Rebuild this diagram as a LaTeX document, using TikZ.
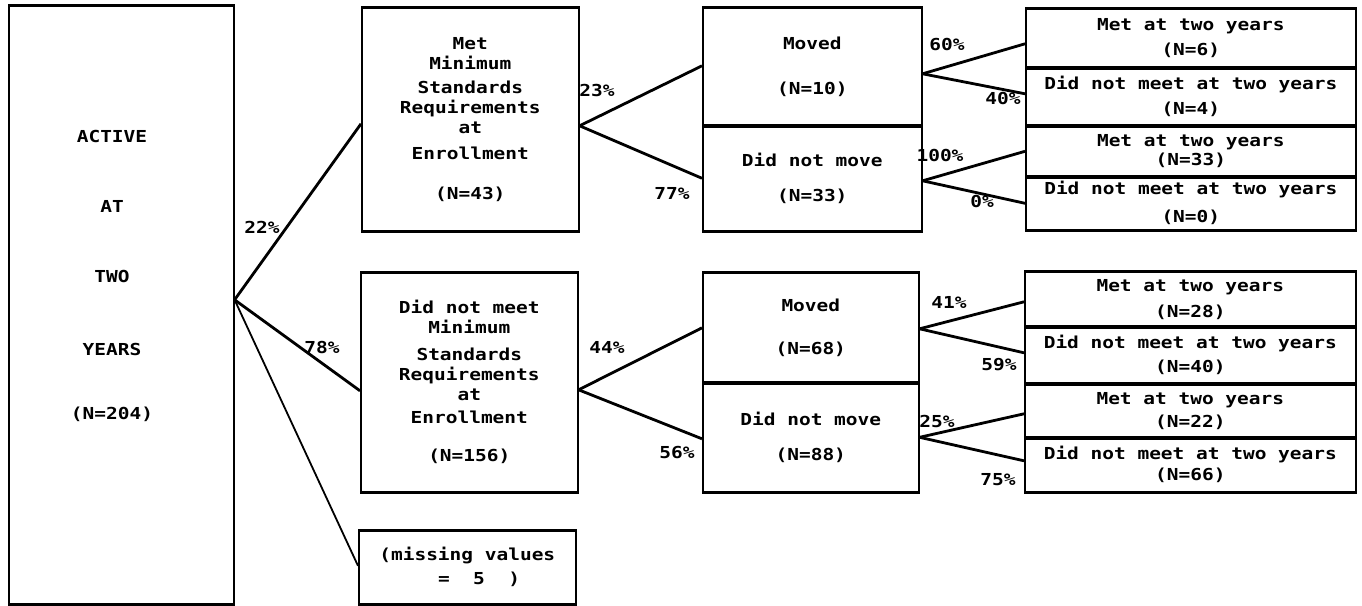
\documentclass[tikz,border=0pt]{standalone}
\usepackage{fontspec}
\newfontfamily\dotfont[FakeStretch=1.18]{DejaVu Sans Mono}
\begin{document}
\begin{tikzpicture}[x=1pt,y=-1pt,
  txt/.style={font=\dotfont\bfseries\fontsize{16.5}{20}\selectfont, align=center, inner sep=0pt},
  box/.style={txt, draw, line width=1.6pt, anchor=north west},
  conn/.style={line width=2.8pt},
  hedge/.style={line width=3pt}]
\useasboundingbox (0,0) rectangle (1362,605);

% root of the tree
\node[box, minimum width=225pt, minimum height=598pt] (root) at (8,5) {};
\node[txt] (roottxt) at (112,276) {ACTIVE\\[50pt]AT\\[50pt]TWO\\[53pt]YEARS\\[44pt](N=204)};

% enrollment level
\node[box, minimum width=217pt, minimum height=223pt] (met) at (361,7)
  {Met\\Minimum\\[4pt]Standards\\Requirements\\at\\[6pt]Enrollment\\[20pt](N=43)};
\node[box, minimum width=217pt, minimum height=219pt] (notmet) at (360,272)
  {Did not meet\\Minimum\\[7pt]Standards\\Requirements\\at\\[3pt]Enrollment\\[18pt](N=156)};
\node[box, minimum width=217pt, minimum height=73pt, align=left] (miss) at (358,530)
  {(missing values\\[4pt]\ \ \ \ \ =\ \ 5\ \ )};

% moving level
\node[box, minimum width=219pt, minimum height=118pt] (mv1) at (702,7) {Moved\\[25pt](N=10)};
\node[box, minimum width=219pt, minimum height=105pt] (nm1) at (702,125) {Did not move\\[15pt](N=33)};
\node[box, minimum width=216pt, minimum height=110pt] (mv2) at (702,272) {Moved\\[23pt](N=68)};
\node[box, minimum width=216pt, minimum height=109pt] (nm2) at (702,382) {Did not move\\[15pt](N=88)};

% outcome at two years
\node[box, minimum width=330pt, minimum height=59pt] (r1) at (1025,8) {Met at two years\\[5pt](N=6)};
\node[box, minimum width=330pt, minimum height=58pt] (r2) at (1025,67) {Did not meet at two years\\[5pt](N=4)};
\node[box, minimum width=330pt, minimum height=51pt] (r3) at (1025,125) {Met at two years\\[-1pt](N=33)};
\node[box, minimum width=330pt, minimum height=53pt] (r4) at (1025,176) {Did not meet at two years\\[8pt](N=0)};
\node[box, minimum width=331pt, minimum height=55pt] (r5) at (1024,271) {Met at two years\\[6pt](N=28)};
\node[box, minimum width=331pt, minimum height=57pt] (r6) at (1024,326) {Did not meet at two years\\[4pt](N=40)};
\node[box, minimum width=331pt, minimum height=54pt] (r7) at (1024,383) {Met at two years\\[3pt](N=22)};
\node[box, minimum width=331pt, minimum height=54pt] (r8) at (1024,437) {Did not meet at two years\\[1pt](N=66)};

% heavier horizontal edges
\foreach \b in {root,met,notmet,miss,mv1,nm1,mv2,nm2,r1,r2,r3,r4,r5,r6,r7,r8}
  \draw[hedge] (\b.north west) -- (\b.north east) (\b.south west) -- (\b.south east);

% branches
\draw[conn] ([yshift=5pt]root.east) -- ([yshift=-4.5pt]met.west);
\draw[conn] ([yshift=5pt]root.east) -- ([yshift=-8.5pt]notmet.west);
\draw[line width=1.8pt] ([yshift=5pt]root.east) -- ([yshift=1.5pt]miss.west);
\draw[conn] ([yshift=-6.5pt]met.east) -- ([yshift=1pt]mv1.west);
\draw[conn] ([yshift=-6.5pt]met.east) -- (nm1.west);
\draw[conn] ([yshift=-7.5pt]notmet.east) -- (mv2.west);
\draw[conn] ([yshift=-7.5pt]notmet.east) -- ([yshift=-1.5pt]nm2.west);
\draw[conn] ([yshift=-7pt]mv1.east) -- ([yshift=-5.5pt]r1.west);
\draw[conn] ([yshift=-7pt]mv1.east) -- ([yshift=3pt]r2.west);
\draw[conn] ([yshift=-2.5pt]nm1.east) -- (r3.west);
\draw[conn] ([yshift=-2.5pt]nm1.east) -- (r4.west);
\draw[conn] ([yshift=-1pt]mv2.east) -- ([yshift=-2.5pt]r5.west);
\draw[conn] ([yshift=-1pt]mv2.east) -- ([yshift=2.5pt]r6.west);
\draw[conn] (nm2.east) -- ([yshift=-3pt]r7.west);
\draw[conn] (nm2.east) -- ([yshift=4pt]r8.west);

% branch percentages
\node[txt] (p22) at (262,227) {22\%};
\node[txt] (p78) at (322,347) {78\%};
\node[txt] (p23) at (597,90) {23\%};
\node[txt] (p77) at (672,193) {77\%};
\node[txt] (p44) at (607,347) {44\%};
\node[txt] (p56) at (677,453) {56\%};
\node[txt] (p60) at (947,45) {60\%};
\node[txt] (p40) at (1003,98) {40\%};
\node[txt] (p100) at (940,155) {100\%};
\node[txt] (p0) at (982,201) {0\%};
\node[txt] (p41) at (949,302) {41\%};
\node[txt] (p59) at (999,365) {59\%};
\node[txt] (p25) at (937,421) {25\%};
\node[txt] (p75) at (998,480) {75\%};
\end{tikzpicture}
\end{document}
